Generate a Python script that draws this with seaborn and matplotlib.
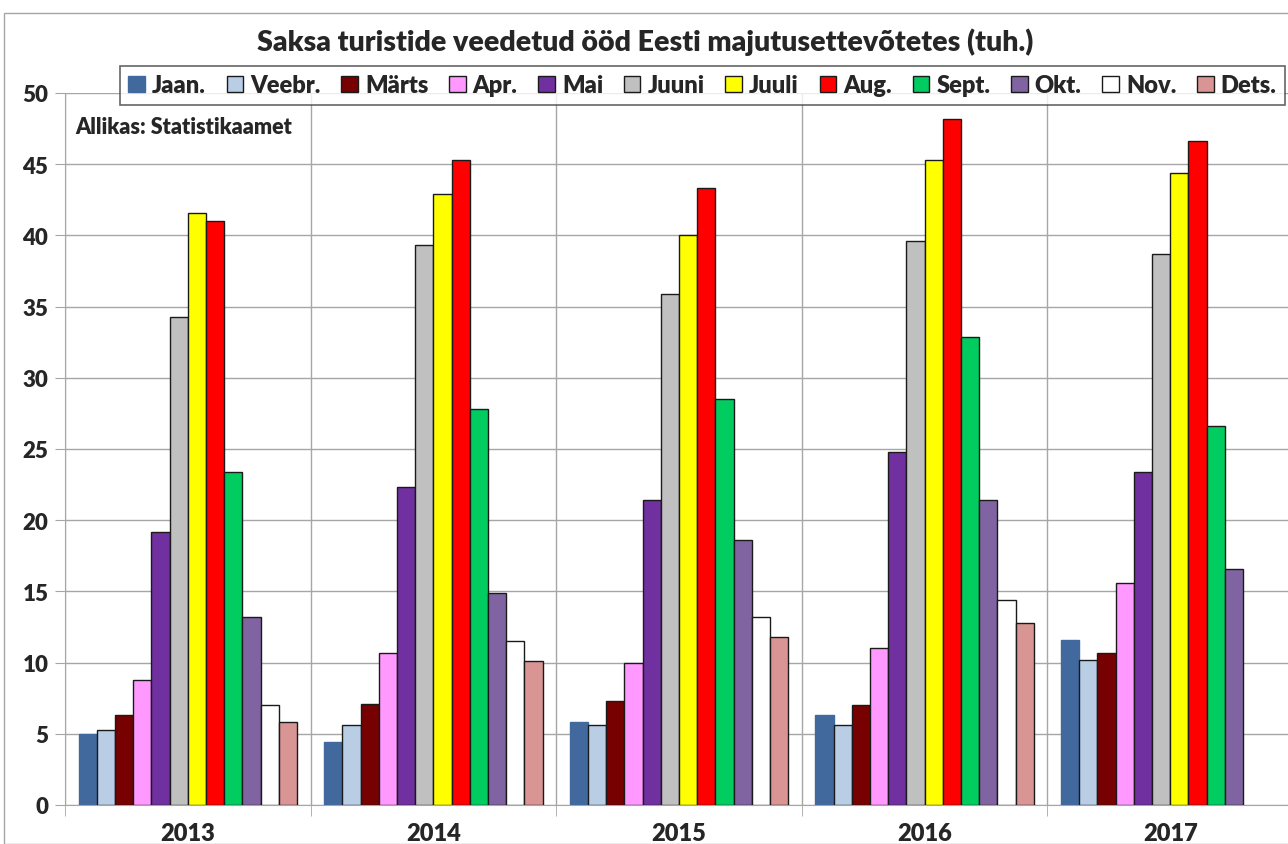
import seaborn as sns
import pandas as pd
import numpy as np
from matplotlib import pyplot as plt
from matplotlib.patches import Patch, Rectangle

years = ['2013', '2014', '2015', '2016', '2017']
months = ['Jaan.', 'Veebr.', 'Märts', 'Apr.', 'Mai', 'Juuni', 'Juuli', 'Aug.', 'Sept.', 'Okt.', 'Nov.', 'Dets.']

v2013 = [5.0, 5.3, 6.3, 8.8, 19.2, 34.3, 41.6, 41.0, 23.4, 13.2, 7.0, 5.8]
v2014 = [4.4, 5.6, 7.1, 10.7, 22.3, 39.3, 42.9, 45.3, 27.8, 14.9, 11.5, 10.1]
v2015 = [5.8, 5.6, 7.3, 10.0, 21.4, 35.9, 40.0, 43.3, 28.5, 18.6, 13.2, 11.8]
v2016 = [6.3, 5.6, 7.0, 11.0, 24.8, 39.6, 45.3, 48.2, 32.9, 21.4, 14.4, 12.8]
v2017 = [11.6, 10.2, 10.7, 15.6, 23.4, 38.7, 44.4, 46.6, 26.6, 16.6, np.nan, np.nan]

colors = ['#41699E', '#B9CDE5', '#770000', '#FF99FF', '#7030A0', '#C0C0C0',
          '#FFFF00', '#FF0000', '#00CC60', '#8064A2', '#FFFFFF', '#D99594']

# long table for seaborn
rows = []
for y, vals in zip(years, [v2013, v2014, v2015, v2016, v2017]):
    for m, v in zip(months, vals):
        rows.append({'year': y, 'month': m, 'value': v})
df = pd.DataFrame(rows)

sns.set_style('white')
plt.rcParams['font.family'] = ['Lato', 'DejaVu Sans']
W = 'heavy'

fig = plt.figure(figsize=(12.88, 8.45), dpi=100)
ax = fig.add_axes([65 / 1288, 1 - 806 / 845, 1228 / 1288, 712 / 845])

sns.barplot(data=df, x='year', y='value', hue='month', order=years,
            hue_order=months, palette=dict(zip(months, colors)),
            width=0.89, gap=0, saturation=1, ax=ax, legend=False, zorder=3)

# bar outlines
for i, cont in enumerate(ax.containers):
    for p in cont:
        if i == 0:
            p.set_edgecolor(colors[0])
        else:
            p.set_edgecolor('#1a1a1a')
        p.set_linewidth(1.0)

ax.set_xlim(-0.5, 4.5)
ax.set_ylim(0, 50)
ax.set_yticks(range(0, 51, 5))
ax.set_xticks(np.arange(-0.5, 5, 1), minor=True)
ax.grid(axis='y', color='#A6A6A6', lw=1, zorder=0)
ax.grid(axis='x', which='minor', color='#A6A6A6', lw=1, zorder=0)
ax.tick_params(axis='x', which='major', length=0, pad=12, labelsize=17)
ax.tick_params(axis='x', which='minor', length=8, color='#A6A6A6', direction='out', bottom=True)
ax.tick_params(axis='y', length=7, color='#A6A6A6', direction='out', left=True, labelsize=16, pad=5)
for lab in ax.get_xticklabels() + ax.get_yticklabels():
    lab.set_fontweight(W)
ax.set_xlabel('')
ax.set_ylabel('')
for s in ['top', 'right']:
    ax.spines[s].set_visible(False)
ax.spines['left'].set_color('#A6A6A6')
ax.spines['bottom'].set_color('#A6A6A6')

fig.text(645 / 1288, 1 - 42 / 845, 'Saksa turistide veedetud ööd Eesti majutusettevõtetes (tuh.)',
         ha='center', va='center', fontsize=20.5, fontweight=W)
ax.text(0.008, 0.953, 'Allikas: Statistikaamet', transform=ax.transAxes,
        ha='left', va='center', fontsize=15.5, fontweight=W, zorder=5)

handles = [Patch(facecolor=c, edgecolor='#1a1a1a' if i else c, lw=1) for i, c in enumerate(colors)]
leg = fig.legend(handles, months, ncol=12, loc='upper left',
                 bbox_to_anchor=(120 / 1288, 1 - 67 / 845), frameon=True, borderaxespad=0,
                 fancybox=False, edgecolor='#404040', handlelength=0.7, handleheight=0.7,
                 handletextpad=0.3, columnspacing=0.88, borderpad=0.35,
                 prop={'weight': W, 'size': 17})
leg.get_frame().set_linewidth(1.2)

fig.patches.append(Rectangle((4 / 1288, 0), 1.2, 1 - 14 / 845, transform=fig.transFigure,
                             fill=False, edgecolor='#A6A6A6', lw=1))

fig.savefig('out.png', dpi=100)
